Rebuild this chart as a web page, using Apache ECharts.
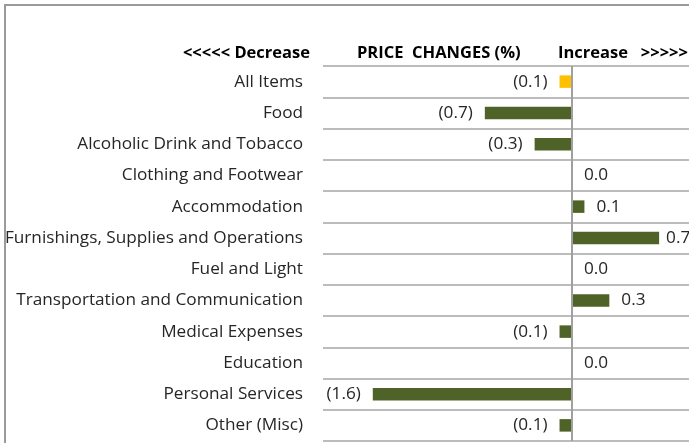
<!DOCTYPE html>
<html>
<head>
<meta charset="utf-8">
<script src="https://cdn.jsdelivr.net/npm/echarts@6/dist/echarts.min.js"></script>
<style>html,body{margin:0;padding:0;background:#fff;}#c{width:689px;height:443px;}</style>
</head>
<body>
<div id="c"></div>
<script>
const categories = ['All Items','Food','Alcoholic Drink and Tobacco','Clothing and Footwear','Accommodation','Furnishings, Supplies and Operations','Fuel and Light','Transportation and Communication','Medical Expenses','Education','Personal Services','Other (Misc)'];
const values = [-0.1,-0.7,-0.3,0.0,0.1,0.7,0.0,0.3,-0.1,0.0,-1.6,-0.1];
const headers = ['<<<<< Decrease','PRICE  CHANGES (%)','Increase   >>>>>'];

const FONT = '"Open Sans", sans-serif';
const chart = echarts.init(document.getElementById('c'), null, {renderer:'canvas'});
const seriesData = values.map((v, i) => ({
  value: v,
  itemStyle: {color: i === 0 ? '#FFC000' : '#4F6228'},
  label: {position: v < 0 ? 'left' : 'right', distance: (v >= 0.6 ? 7 : 12)}
}));
chart.setOption({
  animation: false,
  grid: {left: 323, top: 66, right: 0, height: 375, containLabel: false},
  xAxis: {type: 'value', min: -2, max: 0.94, show: false},
  yAxis: {
    type: 'category', inverse: true, data: categories,
    axisLine: {show: false, onZero: false}, axisTick: {show: false},
    axisLabel: {margin: 20, fontFamily: FONT, fontSize: 17.2, color: '#262626'},
    splitLine: {show: true, lineStyle: {color: '#a6a6a6', width: 1.5}}
  },
  series: [{
    type: 'bar', data: seriesData, barWidth: 12.5,
    label: {show: true, fontFamily: FONT, fontSize: 17.2, color: '#262626',
      formatter: p => p.value < 0 ? '(' + Math.abs(p.value).toFixed(1) + ')' : p.value.toFixed(1)},
    markLine: {silent: true, symbol: 'none', label: {show: false},
      lineStyle: {color: '#a0a0a0', width: 2, type: 'solid'}, data: [{xAxis: 0}]}
  }],
  graphic: [
    {type: 'rect', shape: {x: 5, y: 5, width: 720, height: 460}, style: {fill: 'none', stroke: '#9a9a9a', lineWidth: 2}, silent: true},
    {type: 'text', x: 310, y: 53, style: {text: headers[0], align: 'right', verticalAlign: 'middle', font: 'bold 16.5px ' + FONT, fill: '#000'}},
    {type: 'text', x: 357, y: 53, style: {text: headers[1], align: 'left', verticalAlign: 'middle', font: 'bold 16.5px ' + FONT, fill: '#000'}},
    {type: 'text', x: 558, y: 53, style: {text: headers[2], align: 'left', verticalAlign: 'middle', font: 'bold 16.5px ' + FONT, fill: '#000'}}
  ]
});
</script>
</body>
</html>
